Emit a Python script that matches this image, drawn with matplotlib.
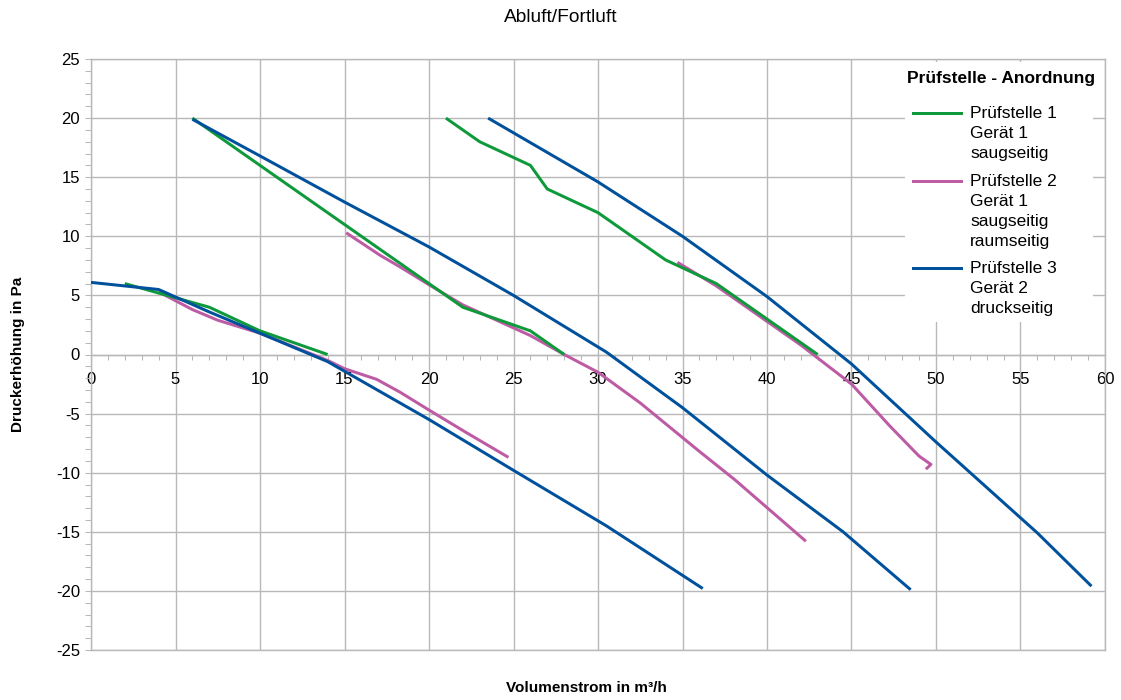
import numpy as np
import matplotlib
matplotlib.use("Agg")
import matplotlib.pyplot as plt
from matplotlib.transforms import Affine2D
from matplotlib.patches import Rectangle
from matplotlib.lines import Line2D
from matplotlib.ticker import MultipleLocator

plt.rcParams['font.family'] = ['Liberation Sans', 'DejaVu Sans']
plt.rcParams['axes.unicode_minus'] = False

# Prüfstelle 1 - Gerät 1 saugseitig (three fan settings)
p1_low_x = [2, 4, 7, 10, 14]
p1_low_y = [6.0, 5.2, 4.0, 2.0, 0.0]
p1_mid_x = [6, 10, 15, 20, 22, 26, 28]
p1_mid_y = [20.0, 16.0, 11.0, 6.0, 4.0, 2.0, 0.0]
p1_high_x = [21, 23, 26, 27, 30, 34, 37, 40, 43]
p1_high_y = [20.0, 18.0, 16.0, 14.0, 12.0, 8.0, 6.0, 3.0, 0.0]

# Prüfstelle 2 - Gerät 1 saugseitig raumseitig
p2_low_x = [4, 6, 7.5, 10, 14, 15, 16.9, 18.3, 20, 22.2, 24.7]
p2_low_y = [5.3, 3.8, 2.9, 1.8, -0.5, -1.2, -2.1, -3.2, -4.7, -6.6, -8.7]
p2_mid_x = [15.1, 17.1, 18.3, 20, 22, 26, 28, 30, 32.5, 36, 38.1, 42.3]
p2_mid_y = [10.3, 8.4, 7.4, 5.9, 4.2, 1.6, 0.0, -1.5, -4.1, -8.2, -10.6, -15.8]
p2_high_x = [34.7, 37, 40, 42, 44, 45, 47.3, 49.0, 49.7, 49.4]
p2_high_y = [7.8, 5.8, 2.8, 0.8, -1.4, -2.5, -6.1, -8.6, -9.3, -9.7]

# Prüfstelle 3 - Gerät 2 druckseitig
p3_low_x = [0, 4, 7, 10, 14, 20, 25, 30.5, 36.2]
p3_low_y = [6.1, 5.5, 3.6, 1.8, -0.6, -5.5, -9.8, -14.5, -19.8]
p3_mid_x = [6, 10, 15, 20, 25, 30.5, 35, 40, 44.5, 48.5]
p3_mid_y = [19.9, 16.8, 12.9, 9.1, 5.0, 0.2, -4.5, -10.2, -15.0, -19.9]
p3_high_x = [23.5, 30, 35, 40, 44.3, 45, 50, 56, 59.2]
p3_high_y = [20.0, 14.6, 10.0, 4.9, 0.0, -0.8, -7.4, -15.1, -19.6]

series_labels = [
    "Prüfstelle 1\nGerät 1\nsaugseitig",
    "Prüfstelle 2\nGerät 1\nsaugseitig\nraumseitig",
    "Prüfstelle 3\nGerät 2\ndruckseitig",
]
series_colors = ["#0e9a3a", "#bd5ba4", "#00519c"]

x_ticks = list(range(0, 61, 5))
y_ticks = list(range(-25, 26, 5))

W, H = 1121, 700
fig = plt.figure(figsize=(W / 100, H / 100), dpi=100)
ax = fig.add_axes([91 / W, 1 - 650 / H, (1105 - 91) / W, (650 - 59) / H])

grid_color = "#b8b8b8"
lw_px = 3.0 * 72 / 100

series = [
    ([p1_low_x, p1_mid_x, p1_high_x], [p1_low_y, p1_mid_y, p1_high_y]),
    ([p2_low_x, p2_mid_x, p2_high_x], [p2_low_y, p2_mid_y, p2_high_y]),
    ([p3_low_x, p3_mid_x, p3_high_x], [p3_low_y, p3_mid_y, p3_high_y]),
]
zorders = [4, 3, 5]
for (xs, ys), color, z in zip(series, series_colors, zorders):
    for cx, cy in zip(xs, ys):
        ax.plot(cx, cy, color=color, lw=lw_px, solid_joinstyle="round",
                solid_capstyle="butt", zorder=z)

ax.set_xlim(0, 60)
ax.set_ylim(-25, 25)
ax.set_xticks(x_ticks)
ax.set_yticks(y_ticks)
ax.xaxis.set_minor_locator(MultipleLocator(1))
ax.yaxis.set_minor_locator(MultipleLocator(1))
ax.grid(True, which="major", color=grid_color, lw=1.0, zorder=0)
ax.set_axisbelow(True)

ax.spines["bottom"].set_position(("data", 0))
for side in ["left", "bottom", "top", "right"]:
    ax.spines[side].set_color(grid_color)
    ax.spines[side].set_linewidth(1.0)
ax.axhline(-25, color=grid_color, lw=1.0, clip_on=False, zorder=0)

ax.tick_params(axis="x", which="both", direction="out", length=3.5,
               color=grid_color, width=0.75, labelsize=12, pad=9)
ax.tick_params(axis="y", which="both", direction="out", length=4.5,
               color=grid_color, width=0.75, labelsize=12, pad=3.5)

px = Affine2D().scale(1 / W, -1 / H).translate(0, 1) + fig.transFigure

fig.text(561, 18, "Abluft/Fortluft", transform=px, ha="center", va="center",
         fontsize=13.8)
fig.text(586, 688, "Volumenstrom in m³/h", transform=px, ha="center",
         va="center", fontsize=11, fontweight="bold")
fig.text(18, 354, "Druckerhöhung in Pa", transform=px, ha="center",
         va="center", rotation=90, fontsize=11, fontweight="bold")

# legend panel
fig.patches.append(Rectangle((905, 62), 188, 260, transform=px,
                             facecolor="white", edgecolor="none", zorder=10))
fig.text(907, 79, "Prüfstelle - Anordnung", transform=px, ha="left",
         va="center", fontsize=12.5, fontweight="bold", zorder=11)
handle_y = [113, 181, 268]
for label, color, hy in zip(series_labels, series_colors, handle_y):
    fig.lines.append(Line2D([913, 961], [hy, hy], transform=px, color=color,
                            lw=lw_px, zorder=11))
    fig.text(970, hy - 7, label, transform=px, ha="left", va="top",
             fontsize=12.5, linespacing=1.42, zorder=11)

fig.savefig("out.png", dpi=100)
